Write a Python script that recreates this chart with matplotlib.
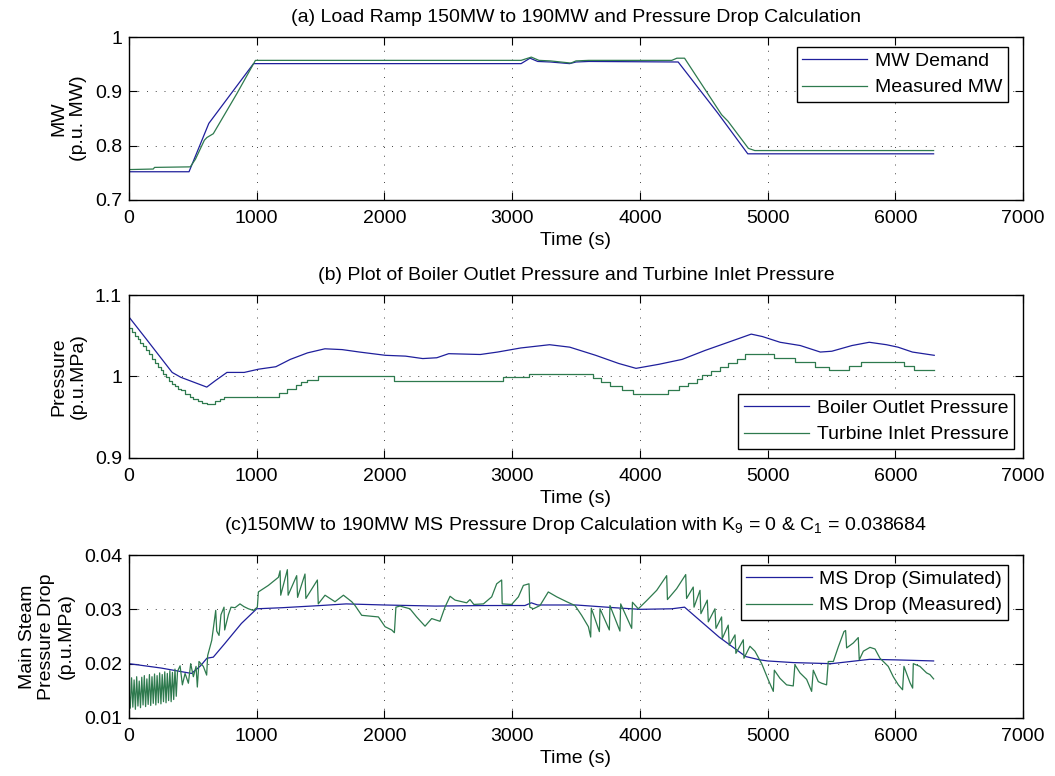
import matplotlib
matplotlib.use("Agg")
import matplotlib.pyplot as plt

# ---------------- data ----------------
time_ticks = [0, 1000, 2000, 3000, 4000, 5000, 6000, 7000]
time_tick_labels = ["0", "1000", "2000", "3000", "4000", "5000", "6000", "7000"]

# (a) MW
mw_ticks = [0.7, 0.8, 0.9, 1.0]
mw_tick_labels = ["0.7", "0.8", "0.9", "1"]
dem_t = [0, 470, 625, 975, 3070, 3140, 3200, 3300, 3450, 3500, 3600, 4300, 4610, 4845, 6300]
dem_v = [0.752, 0.752, 0.841, 0.951, 0.951, 0.961, 0.955, 0.954, 0.951, 0.954, 0.955, 0.954, 0.860, 0.785, 0.785]
meas_t = [0, 190, 200, 480, 520, 590, 610, 660, 845, 990, 3070, 3150, 3210, 3300, 3460, 3500, 3600,
          4250, 4290, 4350, 4640, 4690, 4850, 4900, 6300]
meas_v = [0.756, 0.757, 0.760, 0.761, 0.775, 0.810, 0.815, 0.822, 0.896, 0.957, 0.957, 0.963, 0.957, 0.956,
          0.952, 0.956, 0.957, 0.957, 0.961, 0.961, 0.857, 0.845, 0.795, 0.791, 0.791]

# (b) Pressure
p_ticks = [0.9, 1.0, 1.1]
p_tick_labels = ["0.9", "1", "1.1"]
boiler_t = [0, 135, 338, 406, 609, 677, 767, 902, 1015, 1150, 1263, 1398, 1534, 1669, 1805, 2008, 2165,
            2300, 2410, 2503, 2751, 2886, 3067, 3293, 3451, 3654, 3834, 3970, 4150, 4331, 4511, 4692,
            4872, 4960, 5098, 5256, 5413, 5503, 5661, 5796, 5931, 6021, 6134, 6305]
boiler_v = [1.073, 1.046, 1.005, 0.999, 0.987, 0.995, 1.005, 1.005, 1.009, 1.012, 1.021, 1.029, 1.034,
            1.033, 1.030, 1.026, 1.025, 1.022, 1.023, 1.028, 1.027, 1.030, 1.035, 1.039, 1.036, 1.026,
            1.016, 1.010, 1.015, 1.021, 1.032, 1.042, 1.052, 1.049, 1.042, 1.038, 1.030, 1.031, 1.038,
            1.042, 1.039, 1.036, 1.030, 1.026]
turb_t = [0, 22, 45, 68, 90, 113, 135, 158, 180, 203, 225, 248, 270, 293, 315, 338, 360, 385, 406, 440,
          474, 505, 541, 575, 609, 677, 710, 744, 1173, 1241, 1308, 1350, 1390, 1480, 2075, 2932, 3135,
          3631, 3699, 3767, 3857, 3947, 4218, 4308, 4376, 4444, 4489, 4557, 4624, 4692, 4760, 4827,
          5053, 5211, 5368, 5481, 5639, 5729, 6067, 6144, 6305]
turb_v = [1.059, 1.055, 1.050, 1.046, 1.041, 1.037, 1.032, 1.027, 1.022, 1.017, 1.012, 1.008, 1.003,
          0.999, 0.995, 0.991, 0.988, 0.985, 0.983, 0.979, 0.975, 0.973, 0.970, 0.968, 0.966, 0.970,
          0.973, 0.975, 0.980, 0.985, 0.990, 0.993, 0.996, 1.000, 0.995, 0.999, 1.003, 0.998, 0.993,
          0.988, 0.984, 0.979, 0.984, 0.988, 0.992, 0.997, 1.002, 1.007, 1.012, 1.017, 1.022, 1.027,
          1.023, 1.018, 1.012, 1.008, 1.013, 1.018, 1.013, 1.008, 1.008]

# (c) MS pressure drop
d_ticks = [0.01, 0.02, 0.03, 0.04]
d_tick_labels = ["0.01", "0.02", "0.03", "0.04"]
sim_t = [0, 250, 490, 560, 610, 660, 750, 880, 1000, 1200, 1500, 1700, 2000, 2400, 2800, 3100, 3150,
         3200, 3500, 3800, 4000, 4250, 4350, 4620, 4830, 4940, 5000, 5200, 5500, 5800, 6000, 6300]
sim_v = [0.0200, 0.0192, 0.0182, 0.0196, 0.0210, 0.0212, 0.0237, 0.0274, 0.0301, 0.0303, 0.0307,
         0.0310, 0.0308, 0.0306, 0.0307, 0.0307, 0.0312, 0.0308, 0.0308, 0.0303, 0.0300, 0.0301,
         0.0304, 0.0249, 0.0213, 0.0207, 0.0205, 0.0202, 0.0200, 0.0208, 0.0207, 0.0205]
msm_t = [0, 10, 20, 30, 40, 50, 60, 70, 80, 90, 100, 110, 120, 130, 140, 150, 160, 170, 180, 190, 200,
         210, 220, 230, 240, 250, 260, 270, 280, 290, 300, 310, 320, 330, 340, 350, 360, 370, 380,
         400, 418, 439, 465, 483, 504, 525, 535, 548, 582, 608, 616, 648, 670, 679, 687, 705, 720, 744,
         749, 778, 799, 830, 869, 900, 935, 974, 1005, 1013, 1091, 1170, 1183, 1188, 1240, 1246, 1313,
         1320, 1378, 1385, 1475, 1482, 1535, 1613, 1679, 1744, 1770, 1822, 1953, 2005, 2057, 2078,
         2090, 2122, 2200, 2252, 2318, 2370, 2435, 2474, 2514, 2553, 2644, 2670, 2700, 2775, 2840,
         2879, 2918, 2922, 2996, 3049, 3088, 3132, 3138, 3166, 3218, 3283, 3349, 3427, 3492, 3544,
         3597, 3615, 3620, 3683, 3688, 3761, 3766, 3844, 3850, 3936, 3942, 3988, 4053, 4132, 4210,
         4216, 4288, 4359, 4366, 4418, 4424, 4471, 4478, 4528, 4536, 4588, 4596, 4640, 4645, 4692,
         4700, 4745, 4752, 4810, 4815, 4862, 4901, 4954, 5006, 5045, 5053, 5097, 5149, 5201, 5214,
         5254, 5306, 5345, 5358, 5397, 5423, 5462, 5475, 5515, 5554, 5598, 5611, 5619, 5671, 5710,
         5718, 5750, 5802, 5841, 5880, 5945, 5984, 6024, 6057, 6068, 6115, 6136, 6141, 6193, 6245,
         6271, 6300]
msm_v = [0.0150, 0.0118, 0.0174, 0.0120, 0.0170, 0.0116, 0.0176, 0.0122, 0.0168, 0.0119, 0.0175,
         0.0124, 0.0178, 0.0121, 0.0172, 0.0125, 0.0180, 0.0123, 0.0176, 0.0127, 0.0181, 0.0124,
         0.0178, 0.0128, 0.0183, 0.0126, 0.0180, 0.0130, 0.0185, 0.0128, 0.0182, 0.0132, 0.0187,
         0.0130, 0.0184, 0.0134, 0.0190, 0.0140, 0.0186,
         0.0196, 0.0161, 0.0182, 0.0164, 0.0200, 0.0176, 0.0195, 0.0157, 0.0204, 0.0195, 0.0179,
         0.0215, 0.0243, 0.0283, 0.0298, 0.0260, 0.0252, 0.0290, 0.0304, 0.0262, 0.0290, 0.0304,
         0.0303, 0.0310, 0.0305, 0.0301, 0.0298, 0.0304, 0.0332, 0.0344, 0.0359, 0.0371, 0.0326,
         0.0373, 0.0326, 0.0362, 0.0322, 0.0365, 0.0320, 0.0354, 0.0310, 0.0326, 0.0314, 0.0326,
         0.0314, 0.0307, 0.0289, 0.0286, 0.0268, 0.0262, 0.0257, 0.0304, 0.0306, 0.0301, 0.0286,
         0.0269, 0.0283, 0.0278, 0.0304, 0.0324, 0.0317, 0.0312, 0.0318, 0.0309, 0.0310, 0.0323,
         0.0347, 0.0354, 0.0310, 0.0309, 0.0323, 0.0344, 0.0347, 0.0304, 0.0301, 0.0307, 0.0332,
         0.0323, 0.0314, 0.0307, 0.0289, 0.0268, 0.0249, 0.0302, 0.0259, 0.0301, 0.0262, 0.0307,
         0.0260, 0.0310, 0.0265, 0.0313, 0.0301, 0.0316, 0.0335, 0.0362, 0.0318, 0.0338, 0.0364,
         0.0320, 0.0341, 0.0304, 0.0335, 0.0292, 0.0317, 0.0277, 0.0301, 0.0265, 0.0286, 0.0246,
         0.0271, 0.0234, 0.0253, 0.0219, 0.0244, 0.0210, 0.0232, 0.0223, 0.0200, 0.0170, 0.0149,
         0.0188, 0.0173, 0.0161, 0.0159, 0.0198, 0.0183, 0.0171, 0.0149, 0.0188, 0.0167, 0.0164,
         0.0161, 0.0204, 0.0204, 0.0231, 0.0259, 0.0261, 0.0229, 0.0238, 0.0248, 0.0207, 0.0223,
         0.0230, 0.0227, 0.0210, 0.0195, 0.0176, 0.0161, 0.0152, 0.0195, 0.0165, 0.0155, 0.0200,
         0.0195, 0.0183, 0.0180, 0.0172]

titles = ["(a) Load Ramp 150MW to 190MW and Pressure Drop Calculation",
          "(b) Plot of Boiler Outlet Pressure and Turbine Inlet Pressure",
          r"(c)150MW to 190MW MS Pressure Drop Calculation with $\mathregular{K_9}$ = 0 & $\mathregular{C_1}$ = 0.038684"]
ylabels = ["MW\n(p.u. MW)", "Pressure\n(p.u.MPa)", "Main Steam\nPressure Drop\n(p.u.MPa)"]
legends = [["MW Demand", "Measured MW"],
           ["Boiler Outlet Pressure", "Turbine Inlet Pressure"],
           ["MS Drop (Simulated)", "MS Drop (Measured)"]]

# ---------------- style ----------------
plt.rcParams['font.family'] = ['Liberation Sans', 'DejaVu Sans']
FS = 14
BLUE = '#1f1f9c'
GREEN = '#2e7a4e'

fig = plt.figure(figsize=(10.55, 7.76), dpi=100)
L, W, H = 129 / 1055, 894 / 1055, 163 / 776
axes_y = [1 - 200 / 776, 1 - 458 / 776, 1 - 718 / 776]
ylims = [(0.7, 1.0), (0.9, 1.1), (0.01, 0.04)]
yticks = [mw_ticks, p_ticks, d_ticks]
ytl = [mw_tick_labels, p_tick_labels, d_tick_labels]
ylabel_x = [-0.047, -0.047, -0.0604]
leg_loc = ['upper right', 'lower right', 'upper right']
leg_anchor = [(0.983, 0.939), (0.990, 0.056), (0.983, 0.939)]
title_pad = [11, 11, 18]

axs = [fig.add_axes([L, axes_y[i], W, H]) for i in range(3)]

axs[0].plot(dem_t, dem_v, color=BLUE, lw=0.9)
axs[0].plot(meas_t, meas_v, color=GREEN, lw=0.9)
axs[1].plot(boiler_t, boiler_v, color=BLUE, lw=0.9)
axs[1].plot(turb_t, turb_v, color=GREEN, lw=0.9, drawstyle='steps-post')
axs[2].plot(sim_t, sim_v, color=BLUE, lw=0.9)
axs[2].plot(msm_t, msm_v, color=GREEN, lw=0.9)

for i, ax in enumerate(axs):
    ax.set_xlim(0, 7000)
    ax.set_ylim(*ylims[i])
    ax.set_xticks(time_ticks)
    ax.set_xticklabels(time_tick_labels)
    ax.set_yticks(yticks[i])
    ax.set_yticklabels(ytl[i])
    ax.tick_params(direction='in', length=6, width=0.8, top=True, right=True,
                   labelsize=FS, pad=5, colors='k')
    ax.tick_params(axis='x', pad=7)
    for s in ax.spines.values():
        s.set_linewidth(1.0)
    ax.grid(True, linestyle=(0, (1, 8)), color='#444444', lw=0.7)
    ax.set_title(titles[i], fontsize=FS, pad=title_pad[i])
    ax.set_xlabel("Time (s)", fontsize=FS, labelpad=4)
    ax.set_ylabel(ylabels[i], fontsize=FS, linespacing=1.2)
    ax.yaxis.set_label_coords(ylabel_x[i], 0.5)
    leg = ax.legend(legends[i], loc=leg_loc[i], bbox_to_anchor=leg_anchor[i], borderaxespad=0,
                    fontsize=FS, fancybox=False, framealpha=1, edgecolor='k',
                    handlelength=3.35, handletextpad=0.4, labelspacing=0.45, borderpad=0.28)
    leg.get_frame().set_linewidth(1.0)

fig.savefig("out.png", dpi=100)
